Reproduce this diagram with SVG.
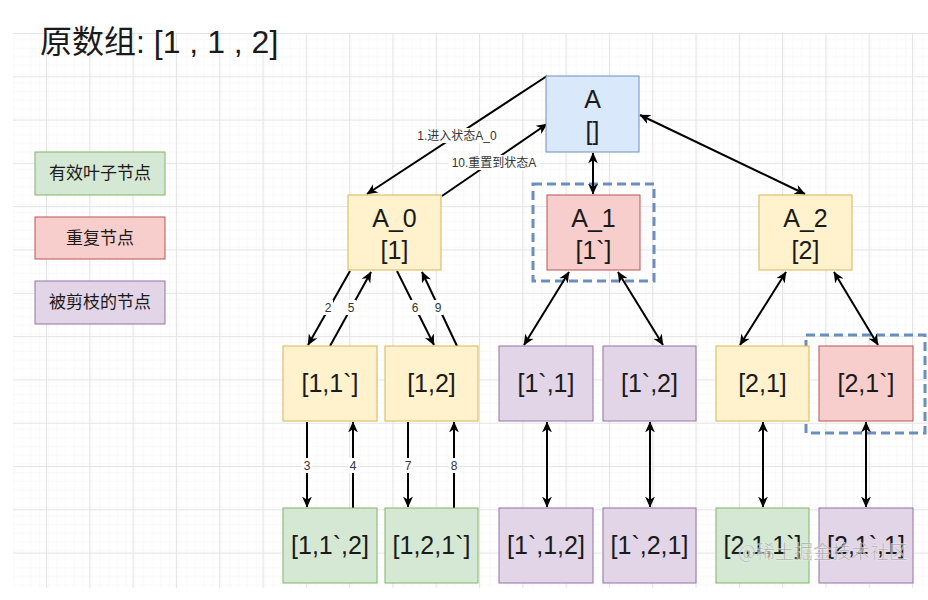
<svg xmlns="http://www.w3.org/2000/svg" width="928" height="600" viewBox="0 0 928 600">
<defs>
<pattern id="minor" patternUnits="userSpaceOnUse" x="2.7" y="33" width="8.66" height="8.66">
<path d="M8.66,0 V8.66 M0,8.66 H8.66" fill="none" stroke="#f4f4f4" stroke-width="1"/>
</pattern>
<pattern id="major" patternUnits="userSpaceOnUse" x="2.7" y="33" width="43.3" height="43.3">
<rect width="43.3" height="43.3" fill="url(#minor)"/>
<path d="M0.5,0 V43.3 M0,0.5 H43.3" fill="none" stroke="#e4e4e4" stroke-width="1"/>
</pattern>
<marker id="arr" viewBox="0 0 10 10" refX="9.5" refY="5" markerWidth="5.5" markerHeight="5.5" orient="auto-start-reverse">
<path d="M0,0.5 L10,5 L0,9.5 L3,5 z" fill="#000"/>
</marker>
<style>
.node text{font-family:"Liberation Sans","Noto Sans CJK SC",sans-serif;font-size:25px;fill:#1a1a1a;text-anchor:middle}
.leg text{font-family:"Noto Sans CJK SC",sans-serif;font-size:17px;fill:#1a1a1a;text-anchor:middle}
.blue{fill:#dae8fc;stroke:#6c8ebf;stroke-width:1}
.yel{fill:#fff2cc;stroke:#d6b656;stroke-width:1}
.red{fill:#f8cecc;stroke:#b85450;stroke-width:1}
.grn{fill:#d5e8d4;stroke:#82b366;stroke-width:1}
.pur{fill:#e1d5e7;stroke:#9673a6;stroke-width:1}
.dash{fill:none;stroke:#6c8ebf;stroke-width:3;stroke-dasharray:9,5}
.e{stroke:#000;stroke-width:2;fill:none;marker-end:url(#arr)}
.d{stroke:#000;stroke-width:2;fill:none;marker-end:url(#arr);marker-start:url(#arr)}
.lbl{font-family:"Liberation Sans","Noto Sans CJK SC",sans-serif;font-size:12px;fill:#333;text-anchor:middle}
.lblbg{fill:#fff}
</style>
</defs>
<rect width="928" height="600" fill="#fff"/>
<rect x="13" y="33" width="915" height="555" fill="url(#major)"/>
<text x="40" y="53" font-family="Liberation Sans,Noto Sans CJK SC,sans-serif" font-size="32" fill="#1a1a1a">原数组: [1 , 1 , 2]</text>
<g id="legend" class="leg">
<g id="leg-valid"><rect class="grn" x="35" y="152" width="130" height="43"/><text x="100" y="179">有效叶子节点</text></g>
<g id="leg-dup"><rect class="red" x="35" y="217" width="130" height="42"/><text x="100" y="244">重复节点</text></g>
<g id="leg-pruned"><rect class="pur" x="35" y="281" width="130" height="43"/><text x="100" y="308">被剪枝的节点</text></g>
</g>
<g id="dashed-boxes">
<rect class="dash" x="533" y="184" width="121" height="97"/>
<rect class="dash" x="806" y="335" width="119" height="98"/>
</g>
<g id="connectors">
<line class="e" x1="547" y1="76" x2="367" y2="194"/>
<line class="e" x1="442" y1="196" x2="547" y2="124"/>
<line class="d" x1="593" y1="153" x2="593" y2="194"/>
<line class="d" x1="640" y1="115" x2="805" y2="194"/>
<line class="e" x1="350" y1="271" x2="308" y2="345"/>
<line class="e" x1="330" y1="346" x2="371" y2="272"/>
<line class="e" x1="397" y1="271" x2="434" y2="345"/>
<line class="e" x1="457" y1="346" x2="422" y2="272"/>
<line class="e" x1="307" y1="422" x2="307" y2="507"/>
<line class="e" x1="353" y1="508" x2="353" y2="422"/>
<line class="e" x1="408" y1="422" x2="408" y2="507"/>
<line class="e" x1="454" y1="508" x2="454" y2="422"/>
<line class="d" x1="569" y1="272" x2="524" y2="345"/>
<line class="d" x1="618" y1="272" x2="663" y2="345"/>
<line class="d" x1="786" y1="272" x2="740" y2="345"/>
<line class="d" x1="834" y1="272" x2="878" y2="345"/>
<line class="d" x1="547" y1="422" x2="547" y2="507"/>
<line class="d" x1="650" y1="422" x2="650" y2="507"/>
<line class="d" x1="763" y1="422" x2="763" y2="507"/>
<line class="d" x1="866" y1="422" x2="866" y2="507"/>
<rect class="lblbg" x="414" y="128" width="86" height="15"/>
<text class="lbl" x="457" y="140">1.进入状态A_0</text>
<rect class="lblbg" x="448" y="155" width="92" height="15"/>
<text class="lbl" x="494" y="167">10.重置到状态A</text>
<rect class="lblbg" x="323" y="300" width="10" height="15"/><text class="lbl" x="328" y="312">2</text>
<rect class="lblbg" x="346" y="300" width="10" height="15"/><text class="lbl" x="351" y="312">5</text>
<rect class="lblbg" x="410" y="300" width="10" height="15"/><text class="lbl" x="415" y="312">6</text>
<rect class="lblbg" x="433" y="300" width="10" height="15"/><text class="lbl" x="438" y="312">9</text>
<rect class="lblbg" x="302" y="458" width="10" height="15"/><text class="lbl" x="307" y="470">3</text>
<rect class="lblbg" x="348" y="458" width="10" height="15"/><text class="lbl" x="353" y="470">4</text>
<rect class="lblbg" x="403" y="458" width="10" height="15"/><text class="lbl" x="408" y="470">7</text>
<rect class="lblbg" x="449" y="458" width="10" height="15"/><text class="lbl" x="454" y="470">8</text>
</g>
<g class="node">
<g id="A"><rect class="blue" x="546" y="76" width="93" height="76"/><text x="592.5" y="108">A</text><text x="592.5" y="140">[]</text></g>
<g id="A_0"><rect class="yel" x="348" y="195" width="93" height="75"/><text x="394.5" y="227">A_0</text><text x="394.5" y="259">[1]</text></g>
<g id="A_1"><rect class="red" x="547" y="195" width="93" height="75"/><text x="593.5" y="227">A_1</text><text x="593.5" y="259">[1`]</text></g>
<g id="A_2"><rect class="yel" x="759" y="195" width="93" height="75"/><text x="805.5" y="227">A_2</text><text x="805.5" y="259">[2]</text></g>
<g id="n11"><rect class="yel" x="283" y="346" width="94" height="75"/><text x="330" y="392">[1,1`]</text></g>
<g id="n12"><rect class="yel" x="385" y="346" width="93" height="75"/><text x="431.5" y="392">[1,2]</text></g>
<g id="n1b1"><rect class="pur" x="499" y="346" width="94" height="75"/><text x="546" y="392">[1`,1]</text></g>
<g id="n1b2"><rect class="pur" x="603" y="346" width="93" height="75"/><text x="649.5" y="392">[1`,2]</text></g>
<g id="n21"><rect class="yel" x="716" y="346" width="93" height="75"/><text x="762.5" y="392">[2,1]</text></g>
<g id="n21b"><rect class="red" x="819" y="346" width="94" height="75"/><text x="866" y="392">[2,1`]</text></g>
<g id="n112"><rect class="grn" x="283" y="508" width="94" height="75"/><text x="330" y="554">[1,1`,2]</text></g>
<g id="n121"><rect class="grn" x="385" y="508" width="93" height="75"/><text x="431.5" y="554">[1,2,1`]</text></g>
<g id="n1b12"><rect class="pur" x="499" y="508" width="94" height="75"/><text x="546" y="554">[1`,1,2]</text></g>
<g id="n1b21"><rect class="pur" x="603" y="508" width="93" height="75"/><text x="649.5" y="554">[1`,2,1]</text></g>
<g id="n211"><rect class="grn" x="716" y="508" width="93" height="75"/><text x="762.5" y="554">[2,1,1`]</text></g>
<g id="n2b1"><rect class="pur" x="819" y="508" width="94" height="75"/><text x="866" y="554">[2,1`,1]</text></g>
</g>
<text x="738" y="559" font-family="Noto Sans CJK SC,sans-serif" font-size="19" fill="#9a9a9a" fill-opacity="0.75" stroke="#fff" stroke-width="0.6" stroke-opacity="0.6">@稀土掘金技术社区</text>
</svg>
